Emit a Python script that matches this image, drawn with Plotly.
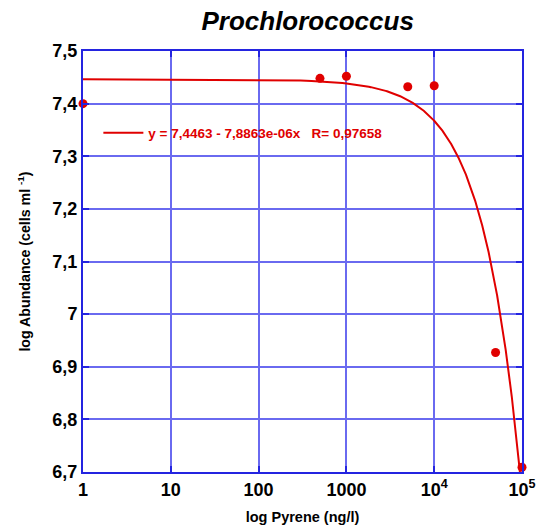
import numpy as np
import plotly.graph_objects as go

# data
pyrene = [1, 500, 1000, 5000, 10000, 50000, 100000]
abundance = [7.400, 7.448, 7.452, 7.432, 7.434, 6.927, 6.709]

fit_intercept = 7.4463
fit_slope = -7.8863e-06
fit_r = 0.97658
fit_label = "y = 7,4463 - 7,8863e-06x   R= 0,97658"

x_tickvals = [1, 10, 100, 1000, 10000, 100000]
x_ticktext = ["1", "10", "100", "1000", "10<sup>4</sup>", "10<sup>5</sup>"]
y_tickvals = [6.7, 6.8, 6.9, 7.0, 7.1, 7.2, 7.3, 7.4, 7.5]
y_ticktext = ["6,7", "6,8", "6,9", "7", "7,1", "7,2", "7,3", "7,4", "7,5"]

fit_x = np.linspace(1, 100001, 1001)
fit_y = fit_intercept + fit_slope * fit_x

RED = "#e00000"
BLUE = "#2424e0"
GRID = "#6a6af0"
FONT = "Liberation Sans, Arial, sans-serif"

fig = go.Figure()
fig.add_trace(go.Scatter(
    x=fit_x, y=fit_y, mode="lines", name="<b>" + fit_label + "</b>",
    line=dict(color=RED, width=2), showlegend=True,
))
fig.add_trace(go.Scatter(
    x=pyrene, y=abundance, mode="markers", showlegend=False,
    marker=dict(color=RED, size=9), cliponaxis=False,
))

fig.update_layout(
    width=536, height=525,
    margin=dict(l=83, r=14, t=51, b=53),
    paper_bgcolor="white", plot_bgcolor="white",
    font=dict(family=FONT, color="black"),
    title=dict(text="<b><i>Prochlorococcus</i></b>", x=0.574, xanchor="center",
               y=0.96, yanchor="middle", font=dict(size=26, family=FONT)),
    legend=dict(x=0.035, xanchor="left", y=0.805, yanchor="middle",
                bgcolor="rgba(0,0,0,0)", font=dict(size=13.5, color=RED, family=FONT),
                itemwidth=40),
    xaxis=dict(type="log", range=[0, 5], tickvals=x_tickvals,
               ticktext=["<b>" + t + "</b>" for t in x_ticktext],
               showgrid=True, gridcolor=GRID, gridwidth=1.5,
               showline=True, linecolor=BLUE, linewidth=2, mirror="ticks",
               ticks="inside", ticklen=6, tickcolor=BLUE, tickwidth=1.5,
               tickfont=dict(size=18, family=FONT), zeroline=False, automargin=False,
               title=dict(text="<b>log Pyrene (ng/l)</b>", font=dict(size=14.5, family=FONT), standoff=14)),
    yaxis=dict(range=[6.7, 7.5], tickvals=y_tickvals,
               ticktext=["<b>" + t + "</b>" for t in y_ticktext],
               showgrid=True, gridcolor=GRID, gridwidth=1.5,
               showline=True, linecolor=BLUE, linewidth=2, mirror="ticks",
               ticks="inside", ticklen=6, tickcolor=BLUE, tickwidth=1.5,
               tickfont=dict(size=18, family=FONT), zeroline=False, automargin=False,
               title=dict(text="<b>log Abundance (cells ml <sup>-1</sup>)</b>",
                          font=dict(size=14.2, family=FONT), standoff=18)),
)

fig.write_html("out.html")
